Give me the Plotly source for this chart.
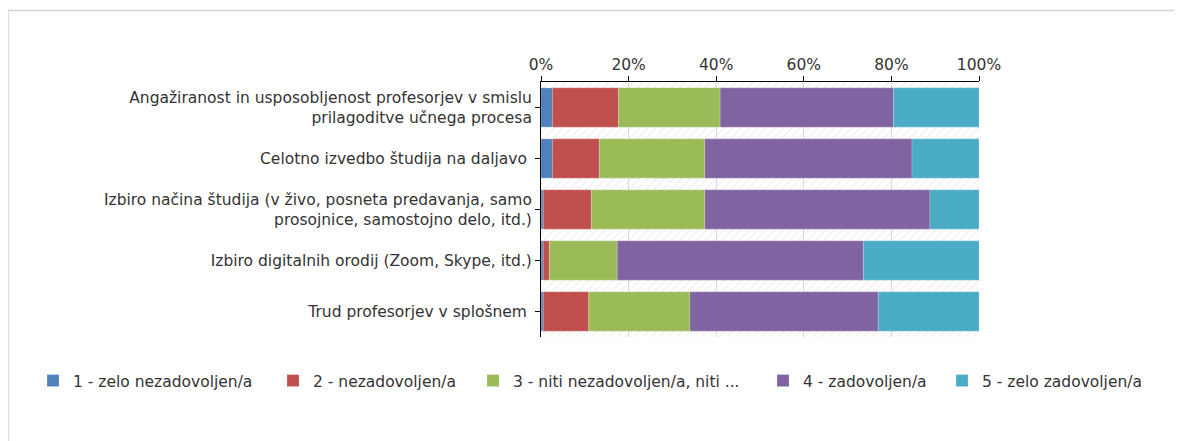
import plotly.graph_objects as go
import numpy as np

kategorije = [
    "Angažiranost in usposobljenost profesorjev v smislu<br>prilagoditve učnega procesa",
    "Celotno izvedbo študija na daljavo\u00a0",
    "Izbiro načina študija (v živo, posneta predavanja, samo<br>prosojnice, samostojno delo, itd.)",
    "Izbiro digitalnih orodij (Zoom, Skype, itd.)",
    "Trud profesorjev v splošnem\u00a0",
]
odgovori = [
    "1 - zelo nezadovoljen/a",
    "2 - nezadovoljen/a",
    "3 - niti nezadovoljen/a, niti ...",
    "4 - zadovoljen/a",
    "5 - zelo zadovoljen/a",
]
ocena_1 = [2.6, 2.6, 0.5, 0.5, 0.5]
ocena_2 = [15.1, 10.7, 11.0, 1.4, 10.4]
ocena_3 = [23.2, 24.1, 25.9, 15.5, 23.1]
ocena_4 = [39.6, 47.3, 51.4, 56.2, 43.0]
ocena_5 = [19.5, 15.3, 11.2, 26.4, 23.0]
barve = ["#4f81bd", "#c0504d", "#9bbb59", "#8064a2", "#4bacc6"]

serije = [ocena_1, ocena_2, ocena_3, ocena_4, ocena_5]
delezi = np.array(serije) / np.array(serije).sum(axis=0) * 100
zacetki = np.vstack([np.zeros(len(kategorije)), np.cumsum(delezi, axis=0)[:-1]])

# stran ima 8px roba, zato je slika za toliko manjsa
W, H = 1174, 433
L, R, T, B = 533, 971, 74, 329
legenda_x = [25, 265, 465, 755, 934]  # levi rob vsake legende v px

fig = go.Figure()

# crtkano ozadje
fig.add_trace(go.Bar(
    y=kategorije, x=[100] * len(kategorije), base=0, orientation="h", width=1,
    marker=dict(color="rgba(0,0,0,0)", line_width=0,
                pattern=dict(shape="/", fgcolor="#e4e4e4", bgcolor="rgba(0,0,0,0)",
                             size=6, solidity=0.15, fillmode="replace")),
    showlegend=False, hoverinfo="skip",
))

legende = {}
for i, (ime, vrednosti, zacetek, barva) in enumerate(zip(odgovori, delezi, zacetki, barve)):
    ref = "legend" if i == 0 else f"legend{i + 1}"
    fig.add_trace(go.Bar(
        y=kategorije, x=vrednosti, base=zacetek, name=ime, orientation="h",
        marker=dict(color=barva, line=dict(color="rgba(255,255,255,0.4)", width=0.5)),
        width=0.77, legend=ref,
    ))
    legende[ref] = dict(orientation="h", x=(legenda_x[i] - L) / (R - L), xanchor="left",
                        y=(B - 373) / (B - T), yanchor="middle",
                        font=dict(size=15.5), itemclick=False, bgcolor="rgba(0,0,0,0)")

fig.update_layout(
    width=W, height=H,
    barmode="overlay",
    paper_bgcolor="white", plot_bgcolor="white",
    margin=dict(l=L, r=W - R, t=T, b=H - B, pad=0),
    font=dict(family="DejaVu Sans, Verdana, sans-serif", size=15.5, color="#333333"),
    shapes=[dict(type="rect", xref="paper", yref="paper",
                 x0=(0 - L) / (R - L), x1=(W + 20 - L) / (R - L),
                 y0=(B - H - 20) / (B - T), y1=(B - 2.5) / (B - T),
                 line=dict(color="#d4d4d4", width=1.5), layer="below")],
    **legende,
)
fig.update_xaxes(
    side="top", range=[0, 100], tickvals=[0, 20, 40, 60, 80, 100],
    ticktext=["0%", "20%", "40%", "60%", "80%", "100%"],
    showgrid=True, gridcolor="#d9d9d9", gridwidth=1,
    showline=True, linecolor="#000000", linewidth=1,
    ticks="outside", ticklen=5, tickcolor="#000000", zeroline=False,
)
fig.update_yaxes(
    range=[4.5, -0.5], showline=True, linecolor="#000000", linewidth=1,
    ticks="outside", ticklen=5, tickcolor="#000000", showgrid=False,
)

fig.write_html("out.html")
